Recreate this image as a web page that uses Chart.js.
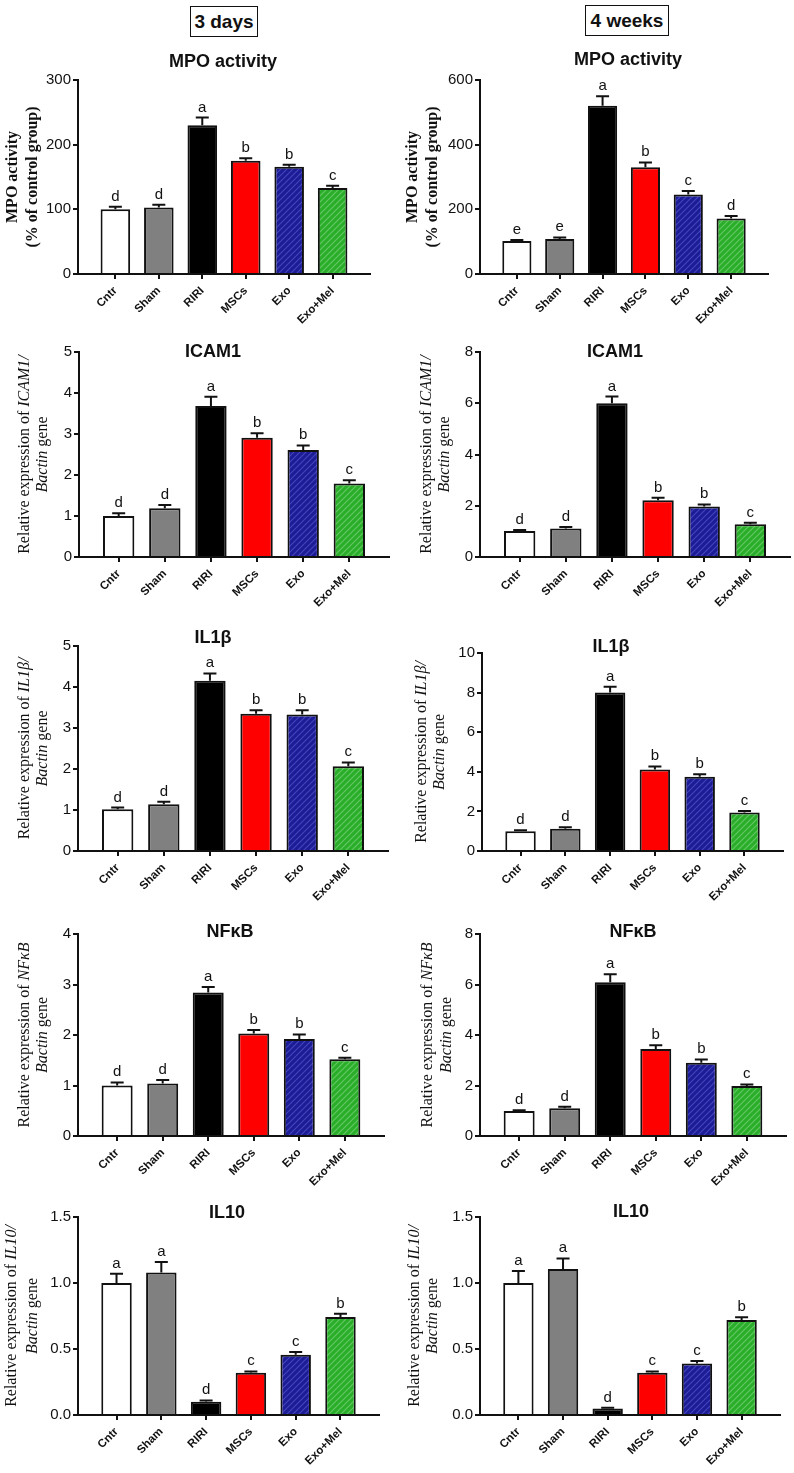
<!DOCTYPE html>
<html><head><meta charset="utf-8">
<script src="https://cdn.jsdelivr.net/npm/chart.js@4"></script>
<style>
html,body{margin:0;padding:0;background:#fff;}
body{width:794px;height:1473px;position:relative;overflow:hidden;font-family:"Liberation Sans",Arial,sans-serif;}
.hdr{position:absolute;border:1.5px solid #111;font-weight:bold;font-size:19px;display:flex;align-items:center;justify-content:center;box-sizing:border-box;color:#111;}
canvas{position:absolute;}
</style></head><body>
<div class="hdr" style="left:190px;top:6px;width:68px;height:31px;">3 days</div>
<div class="hdr" style="left:585px;top:5px;width:84px;height:31px;">4 weeks</div>
<script>
// ---------- data ----------
const categories = ['Cntr', 'Sham', 'RIRI', 'MSCs', 'Exo', 'Exo+Mel'];

const mpo3Values  = [100, 103, 230, 175, 166, 133];
const mpo3Errors  = [4, 4, 12, 4, 3, 3.5];
const mpo3Letters = ['d', 'd', 'a', 'b', 'b', 'c'];
const mpo3Ticks   = [0, 100, 200, 300];

const mpo4Values  = [102, 108, 520, 330, 246, 172];
const mpo4Errors  = [3, 5, 30, 15, 11, 7];
const mpo4Letters = ['e', 'e', 'a', 'b', 'c', 'd'];
const mpo4Ticks   = [0, 200, 400, 600];

const icam3Values  = [1.0, 1.19, 3.68, 2.91, 2.61, 1.79];
const icam3Errors  = [0.07, 0.08, 0.23, 0.11, 0.11, 0.08];
const icam3Letters = ['d', 'd', 'a', 'b', 'b', 'c'];
const icam3Ticks   = [0, 1, 2, 3, 4, 5];

const icam4Values  = [1.01, 1.11, 6.0, 2.21, 1.97, 1.28];
const icam4Errors  = [0.04, 0.06, 0.26, 0.1, 0.08, 0.06];
const icam4Letters = ['d', 'd', 'a', 'b', 'b', 'c'];
const icam4Ticks   = [0, 2, 4, 6, 8];

const il1b3Values  = [1.02, 1.14, 4.15, 3.35, 3.33, 2.07];
const il1b3Errors  = [0.04, 0.06, 0.18, 0.08, 0.1, 0.09];
const il1b3Letters = ['d', 'd', 'a', 'b', 'b', 'c'];
const il1b3Ticks   = [0, 1, 2, 3, 4, 5];

const il1b4Values  = [1.0, 1.12, 8.0, 4.12, 3.75, 1.95];
const il1b4Errors  = [0.05, 0.08, 0.3, 0.15, 0.12, 0.07];
const il1b4Letters = ['d', 'd', 'a', 'b', 'b', 'c'];
const il1b4Ticks   = [0, 2, 4, 6, 8, 10];

const nfkb3Values  = [1.0, 1.04, 2.84, 2.03, 1.92, 1.52];
const nfkb3Errors  = [0.06, 0.07, 0.11, 0.07, 0.09, 0.03];
const nfkb3Letters = ['d', 'd', 'a', 'b', 'b', 'c'];
const nfkb3Ticks   = [0, 1, 2, 3, 4];

const nfkb4Values  = [0.99, 1.1, 6.09, 3.45, 2.9, 1.98];
const nfkb4Errors  = [0.03, 0.06, 0.32, 0.14, 0.13, 0.06];
const nfkb4Letters = ['d', 'd', 'a', 'b', 'b', 'c'];
const nfkb4Ticks   = [0, 2, 4, 6, 8];

const il103Values  = [1.0, 1.08, 0.10, 0.32, 0.457, 0.742];
const il103Errors  = [0.07, 0.08, 0.01, 0.01, 0.02, 0.025];
const il103Letters = ['a', 'a', 'd', 'c', 'c', 'b'];
const il103Ticks   = [0, 0.5, 1.0, 1.5];

const il104Values  = [1.0, 1.106, 0.05, 0.32, 0.39, 0.72];
const il104Errors  = [0.09, 0.08, 0.005, 0.01, 0.02, 0.02];
const il104Letters = ['a', 'a', 'd', 'c', 'c', 'b'];
const il104Ticks   = [0, 0.5, 1.0, 1.5];

const mpoLabel  = [[['MPO activity', 'bold']], [['(% of control group)', 'bold']]];
const geneLabel = (g) => [[['Relative expression of ', 'normal'], [g, 'italic']], [['Bactin', 'italic'], [' gene', 'normal']]];

const panels = [
  {title: 'MPO activity', values: mpo3Values, errors: mpo3Errors, letters: mpo3Letters, ticks: mpo3Ticks, dec: 0, ylabel: mpoLabel},
  {title: 'MPO activity', values: mpo4Values, errors: mpo4Errors, letters: mpo4Letters, ticks: mpo4Ticks, dec: 0, ylabel: mpoLabel},
  {title: 'ICAM1', values: icam3Values, errors: icam3Errors, letters: icam3Letters, ticks: icam3Ticks, dec: 0, ylabel: geneLabel('ICAM1/')},
  {title: 'ICAM1', values: icam4Values, errors: icam4Errors, letters: icam4Letters, ticks: icam4Ticks, dec: 0, ylabel: geneLabel('ICAM1/')},
  {title: 'IL1β', values: il1b3Values, errors: il1b3Errors, letters: il1b3Letters, ticks: il1b3Ticks, dec: 0, ylabel: geneLabel('IL1β/')},
  {title: 'IL1β', values: il1b4Values, errors: il1b4Errors, letters: il1b4Letters, ticks: il1b4Ticks, dec: 0, ylabel: geneLabel('IL1β/')},
  {title: 'NFκB', values: nfkb3Values, errors: nfkb3Errors, letters: nfkb3Letters, ticks: nfkb3Ticks, dec: 0, ylabel: geneLabel('NFκB')},
  {title: 'NFκB', values: nfkb4Values, errors: nfkb4Errors, letters: nfkb4Letters, ticks: nfkb4Ticks, dec: 0, ylabel: geneLabel('NFκB')},
  {title: 'IL10', values: il103Values, errors: il103Errors, letters: il103Letters, ticks: il103Ticks, dec: 1, ylabel: geneLabel('IL10/')},
  {title: 'IL10', values: il104Values, errors: il104Errors, letters: il104Letters, ticks: il104Ticks, dec: 1, ylabel: geneLabel('IL10/')}
];

// ---------- layout (page pixels) ----------
const layouts = [
  {col: 0, x0: 78,  x1: 370, yTop: 80,   yBot: 274,  titleX: 223, titleY: 62,   lab1X: 13,  lab2X: 33},
  {col: 1, x0: 480, x1: 768, yTop: 80,   yBot: 274,  titleX: 628, titleY: 60,   lab1X: 413, lab2X: 433},
  {col: 0, x0: 79,  x1: 389, yTop: 352,  yBot: 557,  titleX: 213, titleY: 352,  lab1X: 25,  lab2X: 43},
  {col: 1, x0: 480, x1: 790, yTop: 352,  yBot: 557,  titleX: 615, titleY: 352,  lab1X: 427, lab2X: 445},
  {col: 0, x0: 78,  x1: 388, yTop: 646,  yBot: 851,  titleX: 213, titleY: 638,  lab1X: 25,  lab2X: 43},
  {col: 1, x0: 482, x1: 783, yTop: 653,  yBot: 851,  titleX: 611, titleY: 647,  lab1X: 422, lab2X: 440},
  {col: 0, x0: 78,  x1: 384, yTop: 934,  yBot: 1136, titleX: 230, titleY: 932,  lab1X: 25,  lab2X: 43},
  {col: 1, x0: 480, x1: 786, yTop: 934,  yBot: 1136, titleX: 633, titleY: 932,  lab1X: 428, lab2X: 447},
  {col: 0, x0: 78,  x1: 379, yTop: 1217, yBot: 1415, titleX: 227, titleY: 1213, lab1X: 12,  lab2X: 33},
  {col: 1, x0: 480, x1: 780, yTop: 1217, yBot: 1415, titleX: 631, titleY: 1212, lab1X: 415, lab2X: 433}
];

const SANS = "'Liberation Sans', Arial, sans-serif";
const SERIF = "'Liberation Serif', 'Times New Roman', serif";
Chart.defaults.font.family = SANS;
Chart.defaults.color = '#111';

function hatch(base, stripe) {
  const c = document.createElement('canvas');
  c.width = 6; c.height = 6;
  const g = c.getContext('2d');
  g.fillStyle = base; g.fillRect(0, 0, 6, 6);
  g.strokeStyle = stripe; g.lineWidth = 1.2;
  g.beginPath();
  g.moveTo(-1, 7); g.lineTo(7, -1);
  g.moveTo(-4, 4); g.lineTo(4, -4);
  g.moveTo(2, 10); g.lineTo(10, 2);
  g.stroke();
  return g.createPattern(c, 'repeat');
}
const blueFill = hatch('#1c1c96', '#4444bb');
const greenFill = hatch('#2aae2a', '#62c862');
const fills = ['#ffffff', '#808080', '#000000', '#ff0000', blueFill, greenFill];

const COLW = 397, TOPPAD = 50, BOTPAD = 72;
const PAD = 0.86;

panels.forEach((p, idx) => {
  const L = layouts[idx];
  const colLeft = L.col * COLW;
  const cTop = L.yTop - TOPPAD;
  const H = (L.yBot - L.yTop) + TOPPAD + BOTPAD;
  const cv = document.createElement('canvas');
  cv.width = COLW; cv.height = H;
  cv.style.left = colLeft + 'px'; cv.style.top = cTop + 'px';
  cv.style.width = COLW + 'px'; cv.style.height = H + 'px';
  document.body.appendChild(cv);

  const deco = {
    id: 'deco' + idx,
    afterDatasetsDraw(chart) {
      const ctx = chart.ctx, xs = chart.scales.x, ys = chart.scales.y;
      ctx.save();
      ctx.strokeStyle = '#111'; ctx.lineWidth = 2;
      p.values.forEach((v, i) => {
        const xp = xs.getPixelForValue(i);
        const yv = ys.getPixelForValue(v);
        const ye = ys.getPixelForValue(v + p.errors[i]);
        ctx.beginPath();
        ctx.moveTo(xp, yv); ctx.lineTo(xp, ye);
        ctx.moveTo(xp - 6.5, ye); ctx.lineTo(xp + 6.5, ye);
        ctx.stroke();
        ctx.fillStyle = '#111';
        ctx.font = '15px ' + SANS;
        ctx.textAlign = 'center'; ctx.textBaseline = 'alphabetic';
        ctx.fillText(p.letters[i], xp, ye - 6);
      });
      ctx.restore();
    },
    afterDraw(chart) {
      const ctx = chart.ctx;
      ctx.save();
      ctx.fillStyle = '#111';
      ctx.font = 'bold 18px ' + SANS;
      ctx.textAlign = 'center'; ctx.textBaseline = 'middle';
      ctx.fillText(p.title, L.titleX - colLeft, L.titleY - cTop);
      const cy = (L.yTop + L.yBot) / 2 - cTop;
      [L.lab1X, L.lab2X].forEach((lx, li) => {
        const segs = p.ylabel[li];
        ctx.save();
        ctx.translate(lx - colLeft, cy);
        ctx.rotate(-Math.PI / 2);
        ctx.textBaseline = 'middle'; ctx.textAlign = 'left';
        const fontOf = (st) => (st === 'bold' ? 'bold 16px ' : st === 'italic' ? 'italic 16px ' : '16px ') + SERIF;
        let total = 0;
        segs.forEach(s => { ctx.font = fontOf(s[1]); total += ctx.measureText(s[0]).width; });
        let x = -total / 2;
        segs.forEach(s => { ctx.font = fontOf(s[1]); ctx.fillText(s[0], x, 0); x += ctx.measureText(s[0]).width; });
        ctx.restore();
      });
      ctx.restore();
    }
  };

  new Chart(cv, {
    type: 'bar',
    data: {
      datasets: [{
        data: p.values.map((v, i) => ({x: i, y: v})),
        backgroundColor: fills,
        borderColor: '#111',
        borderWidth: 2,
        borderSkipped: 'start',
        categoryPercentage: 1,
        barPercentage: 0.68
      }]
    },
    options: {
      responsive: false,
      animation: false,
      events: [],
      layout: {padding: {left: 0, top: TOPPAD, right: COLW - (L.x1 - colLeft), bottom: 0}},
      plugins: {legend: {display: false}, tooltip: {enabled: false}, title: {display: false}},
      scales: {
        x: {
          type: 'linear',
          offset: false,
          min: -PAD, max: categories.length - 1 + PAD,
          afterBuildTicks: s => { s.ticks = categories.map((_, i) => ({value: i})); },
          afterFit: s => { s.height = H - TOPPAD - (L.yBot - L.yTop); },
          grid: {display: true, offset: false, drawOnChartArea: false, drawTicks: true, tickLength: 5, color: '#111', lineWidth: 2},
          border: {display: true, color: '#111', width: 2},
          ticks: {
            autoSkip: false, maxRotation: 45, minRotation: 45, padding: 5,
            color: '#111', font: {size: 11.5, weight: 'bold', family: SANS},
            callback: v => categories[v]
          }
        },
        y: {
          type: 'linear',
          min: 0, max: p.ticks[p.ticks.length - 1],
          afterBuildTicks: s => { s.ticks = p.ticks.map(v => ({value: v})); },
          afterFit: s => { s.width = L.x0 - colLeft; },
          grid: {display: true, drawOnChartArea: false, drawTicks: true, tickLength: 5, color: '#111', lineWidth: 2},
          border: {display: true, color: '#111', width: 2},
          ticks: {
            padding: 2, color: '#111', font: {size: 15, family: SANS},
            callback: v => Number(v).toFixed(p.dec)
          }
        }
      }
    },
    plugins: [deco]
  });
});
</script>
</body></html>
